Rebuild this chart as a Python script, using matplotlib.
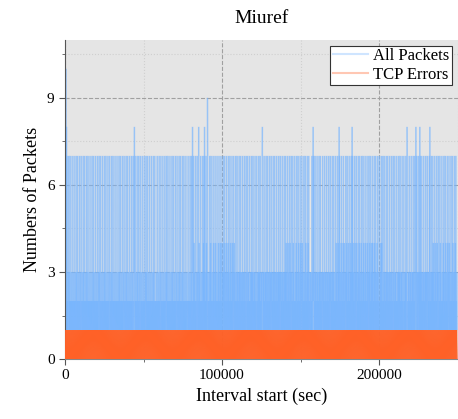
import numpy as np
import matplotlib.pyplot as plt
from matplotlib.collections import LineCollection
from matplotlib.ticker import MultipleLocator

# -------------------
# Data
# -------------------

title = "Miuref"
xlabel = "Interval start (sec)"
ylabel = "Numbers of Packets"
series_names = ["All Packets", "TCP Errors"]

# packets per interval, one digit per interval
all_packets_rows = [
    "7121312171213127131217121312171213121712131217131217121312171213127121312171312171213121713121712131",
    "2171213121712131712131217121312171213127131217121312171213121713121712131217121312712131217131217121",
    "3121712131217121312171312171213121712131271213121713121712131217121312171213127121312171213121713121",
    "7121312712131217121312171213127131217121312171213121712131217131217121213121712131217121312712131217",
    "1213121712131271312171213121712131217131217121312171213127121312171312171213121713121712131217121312",
    "2171213121712131712131217141312171213127131217141312171213121713141712131217141312712131217131417121",
    "3121714131217141312171213141712131417121413127131417121314171213141713121714131217141312714131217131",
    "2171313121713131712131317121313171213137131217131312171213131713131712131317121313712131317131317121",
    "3131712131317121313171312171313121713131271313121713131712131317121313171313127131312171313121713131",
    "7141312171413121714131271312171413121712131417131217141312171413127141312171312171413121713141712131",
    "1313121713131271312171313121713131217131317121313127131312171313121713131217131312713131217131317121",
    "3121714131217141312171213141712131417121413127131417121314171213141713121714131217141312714131217131",
    "4171213141712131714131217141312171413127131417121314171413121714131712131417121314712131417141217131",
    "2171313121713131712131317121313171213137131217131312171213131713131712131317121313712131317131317121",
    "3131712131317121313171312171313121713131271313121713131712131317121313171313127131312171313121713131",
    "7141312171413121714131271312171413121712131417131217141312171413127141312171312171413121713141712131",
]

# isolated bursts above the usual ceiling
burst_x = [600, 1000, 44250, 81270, 85080, 88900, 90800, 125700,
           158100, 174600, 182900, 217800, 223500, 226000, 232400]
burst_y = [10, 8, 8, 8, 8, 8, 9, 8, 8, 8, 8, 8, 8, 8, 8]

tcp_errors_rows = [
    "10" * 400,
]

all_packets = np.array([int(c) for c in "".join(all_packets_rows)], dtype=float)
tcp_errors = np.array([int(c) for c in "".join(tcp_errors_rows)], dtype=float)

t = np.linspace(0, 249700, len(all_packets))
t_tcp = np.linspace(0, 249700, len(tcp_errors))

for bx, by in zip(burst_x, burst_y):
    idx = np.argmin(np.abs(t - bx))
    all_packets[idx] = by


def segments(x, y):
    # each step drawn on its own so that overlaps build up colour
    pts = np.column_stack([x, y])
    return np.stack([pts[:-1], pts[1:]], axis=1)


# -------------------
# Plot
# -------------------

plt.rcParams['font.family'] = ['Liberation Serif', 'DejaVu Serif']

fig = plt.figure(figsize=(4.58, 4.19), dpi=100)
ax = fig.add_axes([0.142, 0.143, 0.857, 0.762])
ax.set_facecolor("#e5e5e5")

blue = "#78b6ff"
orange = "#ff6127"

ax.add_collection(LineCollection(segments(t, all_packets), colors=blue,
                                 linewidths=1.0, alpha=0.45, zorder=2))
ax.add_collection(LineCollection(segments(t_tcp, tcp_errors), colors=orange,
                                 linewidths=0.8, alpha=1.0, zorder=3))

# legend handles
ax.plot([], [], color=blue, alpha=0.35, linewidth=1.5, label=series_names[0])
ax.plot([], [], color=orange, alpha=0.35, linewidth=1.5, label=series_names[1])

ax.set_xlim(0, 250000)
ax.set_ylim(0, 11)

ax.xaxis.set_major_locator(MultipleLocator(100000))
ax.xaxis.set_minor_locator(MultipleLocator(50000))
ax.yaxis.set_major_locator(MultipleLocator(3))
ax.yaxis.set_minor_locator(MultipleLocator(1.5))

ax.grid(which="major", linestyle="--", color="#a0a0a0", linewidth=0.8)
ax.grid(which="minor", linestyle=":", color="#cfcfcf", linewidth=0.8)
ax.set_axisbelow(True)

for s in ["top", "right"]:
    ax.spines[s].set_visible(False)
ax.spines["left"].set_color("#555555")
ax.spines["bottom"].set_color("#888888")

ax.tick_params(which="major", length=4, color="#555555", labelsize=11)
ax.tick_params(which="minor", length=2, color="#555555")

ax.set_title(title, fontsize=14, pad=12)
ax.set_xlabel(xlabel, fontsize=13)
ax.set_ylabel(ylabel, fontsize=13)

leg = ax.legend(loc="upper right", fontsize=12, fancybox=False,
                edgecolor="#333333", framealpha=1, borderpad=0.15,
                handlelength=2.1, handletextpad=0.3, labelspacing=0.15,
                borderaxespad=0.35)
leg.get_frame().set_linewidth(0.8)

fig.savefig("out.png", dpi=100)
